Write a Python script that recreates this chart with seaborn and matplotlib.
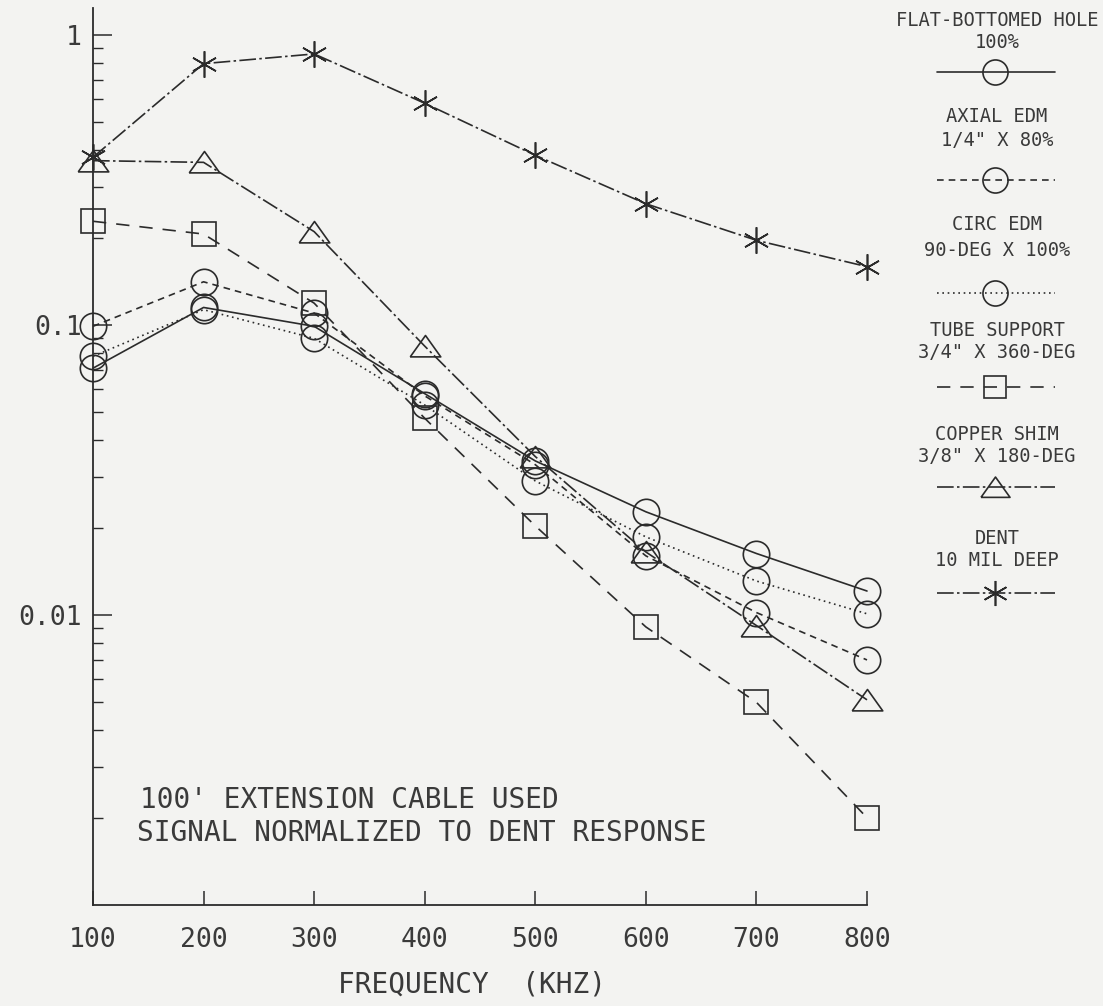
import matplotlib
matplotlib.use("Agg")
import matplotlib.pyplot as plt
import seaborn as sns
import pandas as pd
import numpy as np
from matplotlib.lines import Line2D
from matplotlib.ticker import LogLocator, NullFormatter

# ---------------- data ----------------
freq = [100, 200, 300, 400, 500, 600, 700, 800]
fbh = [0.071, 0.115, 0.099, 0.058, 0.034, 0.0227, 0.0163, 0.0121]
axial = [0.099, 0.141, 0.110, 0.057, 0.033, 0.0160, 0.0102, 0.0070]
circ = [0.078, 0.113, 0.090, 0.053, 0.029, 0.0186, 0.0131, 0.0101]
tube = [0.228, 0.206, 0.119, 0.0477, 0.0203, 0.0091, 0.0050, 0.0020]
copper = [0.369, 0.364, 0.210, 0.0846, 0.0352, 0.0165, 0.0092, 0.0051]
dent = [0.379, 0.797, 0.861, 0.582, 0.385, 0.262, 0.196, 0.159]

series_names = ["FLAT-BOTTOMED HOLE", "AXIAL EDM", "CIRC EDM",
                "TUBE SUPPORT", "COPPER SHIM", "DENT"]
series_sub = ["100%", '1/4" X 80%', "90-DEG X 100%",
              '3/4" X 360-DEG', '3/8" X 180-DEG', "10 MIL DEEP"]
series_vals = [fbh, axial, circ, tube, copper, dent]

x_ticks = [100, 200, 300, 400, 500, 600, 700, 800]
y_ticks = [1, 0.1, 0.01]
y_ticklabels = ["1", "0.1", "0.01"]

# ---------------- style ----------------
sns.set_theme(style="ticks")
plt.rcParams["font.family"] = ["DejaVu Sans Mono", "DejaVu Sans"]
BG = "#f3f3f1"
INK = "#2b2b2b"
TXT = "#3a3a3a"

tri = [(-1.0, -0.68), (1.0, -0.68), (0.0, 0.72), (-1.0, -0.68)]
styles = [
    dict(linestyle="-", marker="o", markersize=19),
    dict(linestyle=(0, (4, 3)), marker="o", markersize=19),
    dict(linestyle=(0, (1, 2.2)), marker="o", markersize=19),
    dict(linestyle=(0, (8, 6)), marker="s", markersize=17),
    dict(linestyle=(0, (10, 2, 1.5, 2)), marker=tri, markersize=22),
    dict(linestyle=(0, (10, 2, 1.5, 2)), marker=(6, 2, 0), markersize=19),
]

fig = plt.figure(figsize=(11.03, 10.06), dpi=100, facecolor=BG)
ax = fig.add_axes([93 / 1103, 1 - 905 / 1006, (867 - 93) / 1103, (905 - 8) / 1006])
ax.set_facecolor(BG)

for name, vals, st in zip(series_names, series_vals, styles):
    df = pd.DataFrame({"freq": freq, "val": vals})
    sns.lineplot(data=df, x="freq", y="val", ax=ax, color=INK, lw=1.2,
                 markerfacecolor="none", markeredgecolor=INK, markeredgewidth=1.2,
                 clip_on=False, legend=False, **st)

ax.set_yscale("log")
ax.set_xlim(100, 800)
ax.set_ylim(0.001, 1.24)

ax.set_xticks(x_ticks)
ax.set_xticklabels([str(t) for t in x_ticks])
ax.set_yticks(y_ticks)
ax.set_yticklabels(y_ticklabels)
ax.yaxis.set_minor_locator(LogLocator(base=10, subs=np.arange(2, 10)))
ax.yaxis.set_minor_formatter(NullFormatter())

ax.tick_params(axis="x", direction="in", length=10, width=1.1, color=INK,
               labelsize=19, labelcolor=TXT, pad=16)
ax.tick_params(axis="y", which="major", direction="in", length=14, width=1.1,
               color=INK, labelsize=19, labelcolor=TXT, pad=8)
ax.tick_params(axis="y", which="minor", direction="in", length=7, width=1.0, color=INK)

for s in ["top", "right"]:
    ax.spines[s].set_visible(False)
for s in ["left", "bottom"]:
    ax.spines[s].set_color(INK)
    ax.spines[s].set_linewidth(1.3)
ax.set_xlabel("")
ax.set_ylabel("")

# axis label and annotation
fig.text(472 / 1103, 1 - 985 / 1006, "FREQUENCY  (KHZ)", ha="center", va="center",
         fontsize=20, color=TXT)
fig.text(140 / 1103, 1 - 800 / 1006, "100' EXTENSION CABLE USED", ha="left",
         va="center", fontsize=20, color=TXT)
fig.text(137 / 1103, 1 - 833 / 1006, "SIGNAL NORMALIZED TO DENT RESPONSE", ha="left",
         va="center", fontsize=20, color=TXT)

# custom legend on the right
line1_y = [20, 117, 225, 330, 435, 538]
line2_y = [42, 140, 250, 353, 457, 560]
samp_y = [72, 180, 293, 387, 487, 593]
cx = 997
for i, st in enumerate(styles):
    fig.text(cx / 1103, 1 - line1_y[i] / 1006, series_names[i], ha="center",
             va="center", fontsize=13.5, color=TXT)
    fig.text(cx / 1103, 1 - line2_y[i] / 1006, series_sub[i], ha="center",
             va="center", fontsize=13.5, color=TXT)
    yy = 1 - samp_y[i] / 1006
    fig.add_artist(Line2D([937 / 1103, 1055 / 1103], [yy, yy], color=INK, lw=1.2,
                          linestyle=st["linestyle"]))
    fig.add_artist(Line2D([995 / 1103], [yy], color=INK, marker=st["marker"],
                          markersize=st["markersize"] * 0.95, markerfacecolor="none",
                          markeredgecolor=INK, markeredgewidth=1.2, linestyle="none"))

fig.savefig("out.png", dpi=100, facecolor=BG)
